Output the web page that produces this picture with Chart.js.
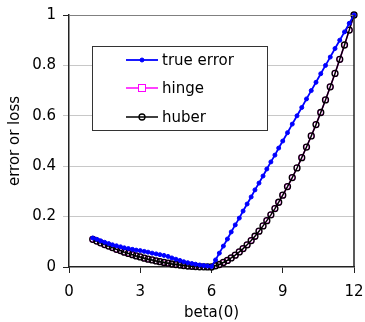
<!DOCTYPE html>
<html>
<head>
<meta charset="utf-8">
<script src="https://cdn.jsdelivr.net/npm/chart.js@4"></script>
<style>
  html, body { margin: 0; padding: 0; background: #fff; }
  #wrap { width: 365px; height: 322px; }
</style>
</head>
<body>
<div id="wrap"><canvas id="chart"></canvas></div>
<script>
// beta(0) values
const betas = [
  1, 1.17, 1.33, 1.5, 1.67, 1.83, 2, 2.17, 2.33, 2.5, 2.67, 2.83, 3, 3.17, 3.33, 3.5,
  3.67, 3.83, 4, 4.17, 4.33, 4.5, 4.67, 4.83, 5, 5.17, 5.33, 5.5, 5.67, 5.83, 6,
  6.17, 6.33, 6.5, 6.67, 6.83, 7, 7.17, 7.33, 7.5, 7.67, 7.83, 8, 8.17, 8.33, 8.5, 8.67, 8.83, 9,
  9.2, 9.4, 9.6, 9.8, 10, 10.2, 10.4, 10.6, 10.8, 11, 11.2, 11.4, 11.6, 11.8, 12
];

const trueError = [
  0.115, 0.110, 0.104, 0.098, 0.093, 0.088, 0.084, 0.080, 0.076, 0.073, 0.070, 0.067, 0.065, 0.062, 0.059, 0.055,
  0.052, 0.049, 0.046, 0.042, 0.036, 0.031, 0.026, 0.021, 0.017, 0.014, 0.011, 0.008, 0.006, 0.004, 0.002,
  0.028, 0.055, 0.083, 0.111, 0.139, 0.167, 0.194, 0.222, 0.250, 0.278, 0.306, 0.333, 0.361, 0.389, 0.417, 0.444, 0.472, 0.500,
  0.533, 0.567, 0.600, 0.633, 0.667, 0.700, 0.733, 0.767, 0.800, 0.833, 0.867, 0.900, 0.933, 0.967, 1.000
];

const hinge = [
  0.110, 0.103, 0.096, 0.089, 0.083, 0.077, 0.070, 0.065, 0.059, 0.054, 0.049, 0.044, 0.040, 0.035, 0.031, 0.028,
  0.024, 0.021, 0.018, 0.015, 0.012, 0.010, 0.008, 0.006, 0.004, 0.003, 0.002, 0.001, 0.0005, 0.0001, 0,
  0.005, 0.010, 0.018, 0.026, 0.036, 0.047, 0.060, 0.073, 0.088, 0.105, 0.122, 0.142, 0.163, 0.184, 0.207, 0.232, 0.257, 0.285,
  0.319, 0.355, 0.393, 0.434, 0.476, 0.520, 0.565, 0.613, 0.663, 0.715, 0.768, 0.824, 0.881, 0.940, 1.000
];

const huber = [
  0.110, 0.103, 0.096, 0.089, 0.083, 0.077, 0.070, 0.065, 0.059, 0.054, 0.049, 0.044, 0.040, 0.035, 0.031, 0.028,
  0.024, 0.021, 0.018, 0.015, 0.012, 0.010, 0.008, 0.006, 0.004, 0.003, 0.002, 0.001, 0.0005, 0.0001, 0,
  0.005, 0.010, 0.018, 0.026, 0.036, 0.047, 0.060, 0.073, 0.088, 0.105, 0.122, 0.142, 0.163, 0.184, 0.207, 0.232, 0.257, 0.285,
  0.319, 0.355, 0.393, 0.434, 0.476, 0.520, 0.565, 0.613, 0.663, 0.715, 0.768, 0.824, 0.881, 0.940, 1.000
];

const labels = ['true error', 'hinge', 'huber'];

const FONT = 'DejaVu Sans';

function pts(ys) {
  return betas.map((b, i) => ({ x: b, y: ys[i] }));
}

// legend box + frame of the plot area
const boxLegend = {
  id: 'boxLegend',
  afterDatasetsDraw(chart) {
    const ctx = chart.ctx;
    const area = chart.chartArea;
    ctx.save();

    // top and right edges of the plot
    ctx.lineWidth = 1;
    ctx.strokeStyle = '#808080';
    ctx.beginPath();
    ctx.moveTo(area.left, area.top + 0.5);
    ctx.lineTo(area.right, area.top + 0.5);
    ctx.stroke();
    ctx.strokeStyle = '#222';
    ctx.lineWidth = 1.5;
    ctx.beginPath();
    ctx.moveTo(area.right, area.top);
    ctx.lineTo(area.right, area.bottom);
    ctx.stroke();

    const x0 = area.left + 23, y0 = area.top + 31;
    const w = 175, h = 84;
    ctx.fillStyle = '#fff';
    ctx.fillRect(x0, y0, w, h);
    ctx.strokeStyle = '#333';
    ctx.lineWidth = 1;
    ctx.strokeRect(x0 + 0.5, y0 + 0.5, w, h);

    const rows = [14, 42, 71];
    chart.data.datasets.forEach((ds, i) => {
      const y = y0 + rows[i];
      const lx = x0 + 34, rx = x0 + 66, mx = (lx + rx) / 2;
      ctx.strokeStyle = ds.borderColor;
      ctx.lineWidth = ds.borderWidth;
      ctx.beginPath();
      ctx.moveTo(lx, y);
      ctx.lineTo(rx, y);
      ctx.stroke();
      ctx.lineWidth = ds.pointBorderWidth;
      ctx.strokeStyle = ds.pointBorderColor;
      ctx.fillStyle = ds.pointBackgroundColor;
      const r = ds.pointRadius;
      if (ds.pointStyle === 'rect') {
        ctx.fillRect(mx - r, y - r, 2 * r, 2 * r);
        ctx.strokeRect(mx - r, y - r, 2 * r, 2 * r);
      } else {
        ctx.beginPath();
        ctx.arc(mx, y, r, 0, Math.PI * 2);
        if (ds.pointBackgroundColor !== 'transparent') ctx.fill();
        ctx.stroke();
      }
      ctx.fillStyle = '#000';
      ctx.font = '15px "' + FONT + '"';
      ctx.textBaseline = 'middle';
      ctx.fillText(ds.label, rx + 4, y + 1);
    });
    ctx.restore();
  }
};

new Chart(document.getElementById('chart'), {
  type: 'line',
  data: {
    datasets: [
      {
        label: labels[0],
        data: pts(trueError),
        borderColor: '#0000ff',
        backgroundColor: '#0000ff',
        borderWidth: 1.8,
        pointStyle: 'circle',
        pointRadius: 2,
        pointBorderWidth: 1,
        pointBorderColor: '#0000ff',
        pointBackgroundColor: '#0000ff',
        order: 0
      },
      {
        label: labels[1],
        data: pts(hinge),
        borderColor: '#ff00ff',
        backgroundColor: '#ffffff',
        borderWidth: 1.5,
        pointStyle: 'rect',
        pointRadius: 3.5,
        pointBorderWidth: 1,
        pointBorderColor: '#ff00ff',
        pointBackgroundColor: '#ffffff',
        order: 2
      },
      {
        label: labels[2],
        data: pts(huber),
        borderColor: '#000000',
        backgroundColor: 'transparent',
        borderWidth: 1.5,
        pointStyle: 'circle',
        pointRadius: 3,
        pointBorderWidth: 1.3,
        pointBorderColor: '#000000',
        pointBackgroundColor: 'transparent',
        order: 1
      }
    ]
  },
  options: {
    responsive: true,
    maintainAspectRatio: false,
    animation: false,
    clip: false,
    layout: { padding: { top: 15, right: 11, left: 6, bottom: 0 } },
    plugins: {
      legend: { display: false },
      tooltip: { enabled: false }
    },
    scales: {
      x: {
        type: 'linear',
        min: 0,
        max: 12,
        ticks: {
          stepSize: 3,
          color: '#000',
          padding: 10,
          font: { family: FONT, size: 15 }
        },
        grid: {
          drawOnChartArea: false,
          tickLength: 6,
          tickColor: '#222'
        },
        border: { color: '#222', width: 1.5 },
        title: {
          display: true,
          text: 'beta(0)',
          color: '#000',
          padding: { top: 5, bottom: 0 },
          font: { family: FONT, size: 15 }
        },
        afterFit(scale) {
          scale.height = 55;
          scale.paddingRight = 0;
          scale.paddingLeft = 0;
        }
      },
      y: {
        min: 0,
        max: 1,
        ticks: {
          stepSize: 0.2,
          color: '#000',
          padding: 7,
          font: { family: FONT, size: 15 },
          callback: (v) => String(Math.round(v * 10) / 10)
        },
        grid: {
          tickLength: 6,
          color: (c) => c.tick.value === 0 ? 'transparent' : '#c8c8c8',
          tickColor: (c) => (c.tick.value === 0 || c.tick.value === 1) ? '#222' : '#c8c8c8'
        },
        border: { color: '#222', width: 1.5 },
        title: {
          display: true,
          text: 'error or loss',
          color: '#000',
          padding: { top: 0, bottom: 4 },
          font: { family: FONT, size: 15 }
        },
        afterFit(scale) {
          scale.width = 63;
          scale.paddingTop = 0;
          scale.paddingBottom = 0;
        }
      }
    }
  },
  plugins: [boxLegend]
});
</script>
</body>
</html>
